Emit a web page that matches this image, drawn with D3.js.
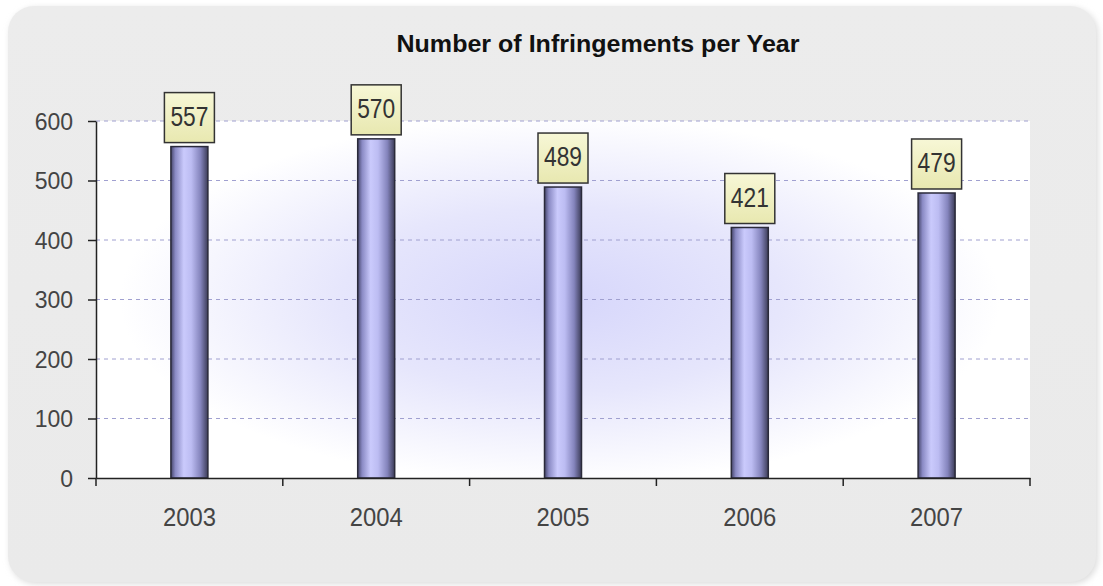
<!DOCTYPE html>
<html>
<head>
<meta charset="utf-8">
<script src="https://cdn.jsdelivr.net/npm/d3@7"></script>
<style>
html,body{margin:0;padding:0;background:#fff;}
svg{display:block;font-family:"Liberation Sans",Arial,sans-serif;}
</style>
</head>
<body>
<svg id="chart" width="1103" height="586"></svg>
<script>
const categories = ["2003","2004","2005","2006","2007"];
const values = [557, 570, 489, 421, 479];
const yTicks = [0,100,200,300,400,500,600];
const title = "Number of Infringements per Year";

const svg = d3.select("#chart");
const m = {left:96, right:1030, top:121, bottom:478};

const defs = svg.append("defs");
const pg = defs.append("linearGradient").attr("id","panelG").attr("x1",0).attr("y1",0).attr("x2",0).attr("y2",1);
pg.append("stop").attr("offset","0%").attr("stop-color","#ececec");
pg.append("stop").attr("offset","100%").attr("stop-color","#eaeaea");

const rg = defs.append("radialGradient").attr("id","plotG")
  .attr("gradientUnits","userSpaceOnUse").attr("cx",560).attr("cy",300).attr("r",440)
  .attr("gradientTransform","translate(560,300) scale(1,0.42) translate(-560,-300)");
rg.append("stop").attr("offset","0%").attr("stop-color","#d6d6fb");
rg.append("stop").attr("offset","50%").attr("stop-color","#e6e6fc");
rg.append("stop").attr("offset","100%").attr("stop-color","#ffffff");

const bg = defs.append("linearGradient").attr("id","barG").attr("x1",0).attr("y1",0).attr("x2",1).attr("y2",0);
[["0%","#45456a"],["12%","#8a8ac4"],["35%","#cacafc"],["55%","#bcbcf2"],["80%","#8484bc"],["100%","#3c3c58"]]
  .forEach(s=>bg.append("stop").attr("offset",s[0]).attr("stop-color",s[1]));

const lg = defs.append("linearGradient").attr("id","lblG").attr("x1",0).attr("y1",0).attr("x2",0).attr("y2",1);
lg.append("stop").attr("offset","0%").attr("stop-color","#f7f7d6");
lg.append("stop").attr("offset","100%").attr("stop-color","#e8e8b0");

const sh = defs.append("filter").attr("id","sh").attr("x","-5%").attr("y","-5%").attr("width","110%").attr("height","110%");
sh.append("feGaussianBlur").attr("stdDeviation",3);

// panel
svg.append("rect").attr("x",10).attr("y",8).attr("width",1088).attr("height",576).attr("rx",26)
  .attr("fill","#dcdcdc").attr("filter","url(#sh)");
svg.append("rect").attr("x",8).attr("y",6).attr("width",1088).attr("height",576).attr("rx",26)
  .attr("fill","url(#panelG)");

// plot area
svg.append("rect").attr("x",m.left).attr("y",m.top).attr("width",m.right-m.left).attr("height",m.bottom-m.top)
  .attr("fill","url(#plotG)");

const x = d3.scaleBand().domain(categories).range([m.left,m.right]).paddingInner(0).paddingOuter(0);
const y = d3.scaleLinear().domain([0,600]).range([m.bottom,m.top]);

// grid
svg.append("g").selectAll("line").data(yTicks.filter(d=>d>0)).join("line")
  .attr("x1",m.left).attr("x2",m.right).attr("y1",d=>y(d)).attr("y2",d=>y(d))
  .attr("stroke","#a0a0d0").attr("stroke-width",1).attr("stroke-dasharray","4,4");

// title
svg.append("text").attr("x",598).attr("y",52).attr("text-anchor","middle")
  .attr("font-size",24).attr("font-weight","bold").attr("fill","#111")
  .attr("textLength",403).attr("lengthAdjust","spacingAndGlyphs").text(title);

// bars
const bw = 37;
svg.append("g").selectAll("rect").data(values).join("rect")
  .attr("x",(d,i)=>x(categories[i])+x.bandwidth()/2-bw/2)
  .attr("y",d=>y(d)).attr("width",bw).attr("height",d=>y(0)-y(d))
  .attr("fill","url(#barG)").attr("stroke","#2a2a3a").attr("stroke-width",1.5);

// labels
const lbl = svg.append("g").selectAll("g").data(values).join("g")
  .attr("transform",(d,i)=>`translate(${x(categories[i])+x.bandwidth()/2},${y(d)-4})`);
lbl.append("rect").attr("x",-25).attr("y",-50).attr("width",50).attr("height",50)
  .attr("fill","url(#lblG)").attr("stroke","#333").attr("stroke-width",1.5);
lbl.append("text").attr("x",0).attr("y",-17).attr("text-anchor","middle")
  .attr("font-size",28).attr("fill","#333")
  .attr("textLength",38).attr("lengthAdjust","spacingAndGlyphs").text(d=>d);

// y axis
const yAxis = svg.append("g").attr("transform",`translate(${m.left},0)`)
  .call(d3.axisLeft(y).tickValues(yTicks).tickSize(8).tickPadding(15).tickSizeOuter(0));
yAxis.select(".domain").attr("stroke","#222").attr("stroke-width",1.5);
yAxis.selectAll(".tick line").attr("stroke","#222").attr("stroke-width",1.5);
yAxis.selectAll(".tick text").attr("font-size",23).attr("fill","#444")
  .attr("font-family","'Liberation Sans',Arial,sans-serif").attr("dy","0.36em");

// x axis
const xAxis = svg.append("g").attr("transform",`translate(0,${m.bottom})`)
  .call(d3.axisBottom(x).tickSize(0).tickPadding(30).tickSizeOuter(0));
xAxis.select(".domain").attr("stroke","#222").attr("stroke-width",1.5);
xAxis.selectAll(".tick text").attr("font-size",26).attr("fill","#444")
  .attr("font-family","'Liberation Sans',Arial,sans-serif")
  .attr("textLength",53).attr("lengthAdjust","spacingAndGlyphs");
// category separator ticks
const seps = categories.map(c=>x(c)).concat([m.right]);
svg.append("g").selectAll("line").data(seps).join("line")
  .attr("x1",d=>d).attr("x2",d=>d).attr("y1",m.bottom).attr("y2",m.bottom+8)
  .attr("stroke","#222").attr("stroke-width",1.5);
</script>
</body>
</html>
